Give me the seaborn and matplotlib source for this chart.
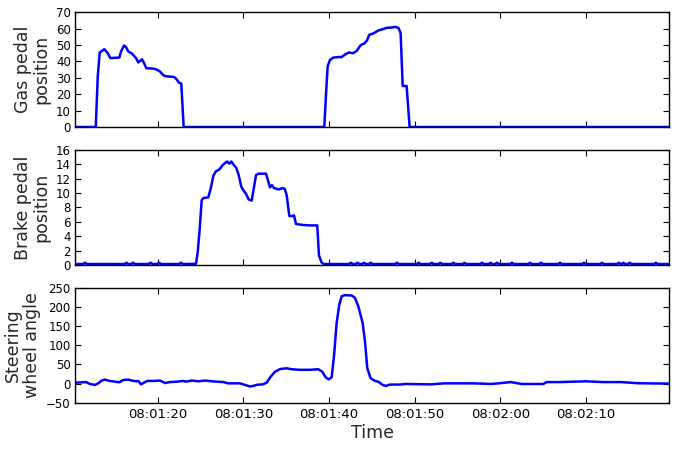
import pandas as pd
import seaborn as sns
import numpy as np
import matplotlib
matplotlib.use('Agg')
import matplotlib.pyplot as plt
import matplotlib.dates as mdates

# seconds after 08:01:10
gas_t = [0.35, 2.77, 3.0, 3.23, 3.77, 4.16, 4.47, 5.52, 5.72, 6.07, 6.3, 6.57, 6.97, 7.47, 7.74,
         8.17, 8.44, 8.67, 9.49, 9.96, 10.27, 10.62, 10.97, 11.9, 12.17, 12.49, 12.75, 13.03,
         29.44, 29.67, 29.83, 30.1, 30.49, 31.19, 31.42, 31.82, 32.29, 32.82, 33.22, 33.69, 34.11,
         34.42, 34.69, 35.16, 35.74, 36.14, 36.72, 37.3, 37.8, 38.12, 38.35, 38.59, 39.05, 39.4, 69.7]
gas_v = [0, 0, 30.7, 45.4, 47.4, 45, 42, 42.3, 46, 49.7, 48.6, 46, 44.8, 42, 39.3,
         41.3, 38.5, 35.8, 35.6, 34.8, 33.8, 31.7, 30.9, 30.5, 29.3, 27, 26.5, 0,
         0, 22.6, 36.8, 40.9, 42.3, 42.7, 42.5, 44, 45.4, 45, 46.4, 49.9, 50.9,
         52.7, 56.2, 57, 58.8, 59.4, 60.4, 60.6, 61, 60.2, 57.2, 25, 25, 0, 0]

brake_t = [0.35, 1.3, 1.52, 1.75, 6.15, 6.36, 6.55, 6.9, 7.12, 7.35, 8.95, 9.16, 9.4, 9.95, 10.15, 10.4,
           12.5, 12.72, 12.95, 14.47, 14.67, 14.9, 15.13, 15.32, 15.9, 16.18, 16.49, 16.77, 17.19,
           17.66, 18.12, 18.36, 18.59, 18.82, 19.17, 19.45, 19.75, 19.99, 20.3, 20.62, 20.97, 21.24,
           21.47, 21.74, 22.64, 22.91, 23.1, 23.34, 23.57, 24.12, 24.59, 24.82, 25.05, 25.36, 25.71,
           25.9, 26.14, 26.99, 27.77, 28.62, 28.82, 29.14, 29.4,
           32.35, 32.55, 32.75, 33.1, 33.32, 33.55, 33.85, 34.07, 34.3, 34.65, 34.85, 35.05,
           37.7, 37.92, 38.15, 40.25, 40.45, 40.65, 41.75, 41.97, 42.2, 42.8, 42.99, 43.2,
           44.3, 44.51, 44.7, 45.6, 45.8, 46.0, 47.65, 47.84, 48.05, 48.65, 48.84, 49.05, 49.4,
           49.59, 49.8, 51.15, 51.34, 51.55, 53.25, 53.44, 53.65, 54.55, 54.73, 54.95, 56.75,
           56.95, 57.15, 59.55, 59.75, 59.95, 61.65, 61.84, 62.05, 63.65, 63.83, 64.05, 64.2,
           64.36, 64.55, 64.9, 65.1, 65.3, 67.95, 68.14, 68.35, 69.7]
brake_v = [0.12, 0.12, 0.3, 0.12, 0.12, 0.3, 0.12, 0.12, 0.3, 0.12, 0.12, 0.3, 0.12, 0.12, 0.3, 0.12,
           0.12, 0.3, 0.12, 0.15, 1.8, 5, 9, 9.3, 9.4, 10.6, 12.4, 13, 13.3,
           14, 14.4, 14.1, 14.4, 14, 13.5, 12.5, 10.9, 10.4, 9.9, 9.1, 8.95, 10.9,
           12.5, 12.7, 12.7, 11.6, 10.8, 11.1, 10.7, 10.5, 10.7, 10.6, 9.7, 6.8, 6.8,
           6.9, 5.7, 5.55, 5.5, 5.5, 1.3, 0.3, 0.12,
           0.12, 0.3, 0.12, 0.12, 0.3, 0.12, 0.12, 0.3, 0.12, 0.12, 0.3, 0.12,
           0.12, 0.3, 0.12, 0.12, 0.3, 0.12, 0.12, 0.3, 0.12, 0.12, 0.3, 0.12,
           0.12, 0.3, 0.12, 0.12, 0.3, 0.12, 0.12, 0.3, 0.12, 0.12, 0.3, 0.12, 0.12,
           0.3, 0.12, 0.12, 0.3, 0.12, 0.12, 0.3, 0.12, 0.12, 0.3, 0.12, 0.12,
           0.3, 0.12, 0.12, 0.3, 0.12, 0.12, 0.3, 0.12, 0.12, 0.3, 0.12, 0.12,
           0.3, 0.12, 0.12, 0.3, 0.12, 0.12, 0.3, 0.12, 0.12]

steer_t = [0.35, 0.93, 1.63, 2.1, 2.68, 3.07, 3.46, 3.85, 4.35, 5.02, 5.52, 5.99, 6.57, 6.97, 7.47,
           7.74, 8.05, 8.4, 8.79, 9.49, 10.27, 10.85, 11.44, 12.22, 12.99, 13.3, 13.97, 14.74,
           15.52, 16.3, 17.66, 18.24, 19.6, 19.99, 20.77, 21.16, 21.62, 22.25, 22.72, 23.18, 23.69,
           24.27, 25.05, 25.63, 26.6, 27.77, 28.74, 29.21, 29.6, 29.95, 30.3, 30.57, 30.88, 31.19,
           31.47, 31.85, 32.64, 33.02, 33.41, 33.92, 34.19, 34.46, 34.85, 35.36, 35.74, 36.26,
           36.64, 37.11, 38.27, 38.86, 41.89, 43.4, 46.9, 48.9, 49.94, 51.2, 52.5, 55.0, 55.4,
           56.95, 59.97, 61.96, 64.06, 66.0, 69.7]
steer_v = [2.5, 3, 4, -1, -3.5, 1, 8, 10.5, 7, 5, 3.5, 9.5, 10.5, 8, 6,
           7, -2, 2.5, 7, 7, 8, 1.5, 4, 5, 7, 5, 8, 6,
           8, 6, 4, 0.7, 0.7, -2, -7.5, -6, -3, -2, 2.5, 18, 31,
           38, 40, 37.5, 36, 36, 37.5, 31, 16.5, 11, 16.5, 70.7, 158, 206,
           228, 231, 230, 224, 202, 158, 110, 40, 14, 7, 5, -3.5,
           -6, -2.5, -2.5, -1, -2, 0.7, 0.7, -1, 1, 4, -1, -1, 4,
           4, 6, 4, 4, 1, 0]

start = pd.Timestamp('2016-01-01 08:01:10')

sns.set_style('ticks')
plt.rcParams.update({
    'xtick.direction': 'in', 'ytick.direction': 'in',
    'xtick.top': True, 'ytick.right': True,
    'xtick.major.size': 4, 'ytick.major.size': 4,
    'xtick.major.pad': 4, 'ytick.major.pad': 3,
    'axes.edgecolor': 'black', 'axes.linewidth': 1.0,
    'xtick.color': 'black', 'ytick.color': 'black',
    'xtick.labelsize': 9.5, 'ytick.labelsize': 8.5,
    'axes.labelsize': 12.5,
})
plt.rcParams['font.family'] = ['DejaVu Sans']

fig, axes = plt.subplots(3, 1, figsize=(6.76, 4.49), dpi=100, sharex=True)

panels = [
    (gas_t, gas_v, 'Gas pedal\nposition', (0, 70), np.arange(0, 71, 10)),
    (brake_t, brake_v, 'Brake pedal\nposition', (0, 16), np.arange(0, 17, 2)),
    (steer_t, steer_v, 'Steering\nwheel angle', (-50, 250), np.arange(-50, 251, 50)),
]

for ax, (t, v, label, ylim, yt) in zip(axes, panels):
    df = pd.DataFrame({'time': start + pd.to_timedelta(t, unit='s'), 'value': v})
    sns.lineplot(data=df, x='time', y='value', ax=ax, color='blue', linewidth=1.8)
    ax.set_ylim(*ylim)
    ax.set_yticks(yt)
    ax.set_ylabel(label, labelpad=4, linespacing=1.05)
    ax.set_xlabel('')

axes[-1].set_xlim(start + pd.Timedelta(seconds=0.35), start + pd.Timedelta(seconds=69.7))
axes[-1].xaxis.set_major_locator(mdates.SecondLocator(bysecond=[0, 10, 20, 30, 40, 50]))
axes[-1].xaxis.set_major_formatter(mdates.DateFormatter('%H:%M:%S'))
axes[-1].set_xlabel('Time', labelpad=2)

plt.subplots_adjust(left=0.111, right=0.99, top=0.973, bottom=0.103, hspace=0.2)
plt.savefig('out.png', dpi=100)
